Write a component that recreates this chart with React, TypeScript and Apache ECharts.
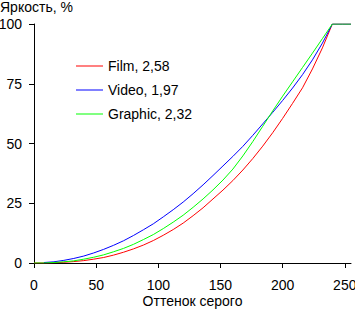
import React, { useEffect, useRef } from "react";
import * as echarts from "echarts";

const grayLevels = [0, 8, 16, 24, 32, 40, 48, 56, 64, 72, 80, 88, 96, 104, 112, 120, 128, 136, 144, 152, 160, 168, 176, 184, 192, 200, 208, 216, 224, 232, 240, 248, 255];
const filmValues = [0, 0, 0.1, 0.3, 0.6, 1.0, 1.6, 2.3, 3.3, 4.5, 5.9, 7.5, 9.4, 11.6, 14.0, 16.7, 19.8, 23.1, 26.8, 30.5, 34.5, 38.9, 43.7, 48.9, 54.5, 60.5, 66.8, 73.3, 81.2, 90.0, 100, 100, 100];
const videoValues = [null, 0.2, 0.5, 1.1, 1.9, 2.9, 4.2, 5.7, 7.4, 9.3, 11.5, 13.9, 16.4, 19.3, 22.3, 25.5, 29.0, 32.7, 36.6, 40.6, 44.6, 48.8, 53.4, 58.2, 63.0, 68.0, 73.2, 78.8, 85.0, 92.0, 100, 100, 100];
const graphicValues = [0, 0, 0.2, 0.5, 0.9, 1.6, 2.4, 3.4, 4.7, 6.1, 7.8, 9.8, 11.9, 14.4, 17.1, 20.0, 23.3, 26.8, 30.6, 34.7, 39.3, 44.8, 50.8, 57.2, 63.6, 69.8, 75.8, 81.8, 87.8, 93.9, 100, 100, 100];
const xTicks = [0, 50, 100, 150, 200, 250];
const seriesNames = ["Film, 2,58", "Video, 1,97", "Graphic, 2,32"];
const seriesColors = ["#ff0000", "#0000ff", "#00ff00"];

const FONT = "'Liberation Sans', Arial, sans-serif";
const FS = 14;

export default function App() {
  const ref = useRef<HTMLDivElement>(null);
  useEffect(() => {
    if (!ref.current) return;
    const chart = echarts.init(ref.current, null, { renderer: "svg" });
    const all = [filmValues, videoValues, graphicValues];
    chart.setOption({
      animation: false,
      textStyle: { fontFamily: FONT, color: "#000" },
      grid: { left: 34, right: 4, top: 24, bottom: 47, containLabel: false, outerBoundsMode: "none" },
      graphic: [
        { type: "text", left: 0, top: 0, style: { text: "Яркость, %", font: `${FS}px ${FONT}`, fill: "#000" } },
      ],
      legend: {
        orient: "vertical",
        left: 76,
        top: 59,
        padding: 0,
        itemWidth: 27,
        itemHeight: 1,
        itemGap: 10,
        icon: "rect",
        textStyle: { fontSize: FS, color: "#000", fontFamily: FONT },
        data: seriesNames,
      },
      xAxis: {
        type: "value",
        min: 0,
        max: 255,
        interval: 50,
        name: "Оттенок серого",
        nameLocation: "middle",
        nameGap: 31,
        nameMoveOverlap: false,
        nameTextStyle: { fontSize: FS, color: "#000", fontFamily: FONT },
        axisLine: { lineStyle: { color: "#000", width: 1 } },
        axisTick: { length: 5, lineStyle: { color: "#000" }, customValues: xTicks },
        axisLabel: { fontSize: FS, color: "#000", margin: 15, customValues: xTicks, fontFamily: FONT },
        splitLine: { show: false },
      },
      yAxis: {
        type: "value",
        min: 0,
        max: 100,
        interval: 25,
        axisLine: { show: true, lineStyle: { color: "#000", width: 1 } },
        axisTick: { show: true, length: 5, lineStyle: { color: "#000" } },
        axisLabel: { fontSize: FS, color: "#000", margin: 12, fontFamily: FONT },
        splitLine: { show: false },
      },
      series: seriesNames.map((name, i) => ({
        name,
        type: "line",
        data: grayLevels.map((g, j) => [g, all[i][j]]),
        showSymbol: false,
        symbol: "none",
        connectNulls: false,
        lineStyle: { color: seriesColors[i], width: 1 },
        itemStyle: { color: seriesColors[i] },
      })),
    });
    return () => chart.dispose();
  }, []);
  return <div ref={ref} style={{ width: 355, height: 310, position: "absolute", left: 0, top: 0 }} />;
}
